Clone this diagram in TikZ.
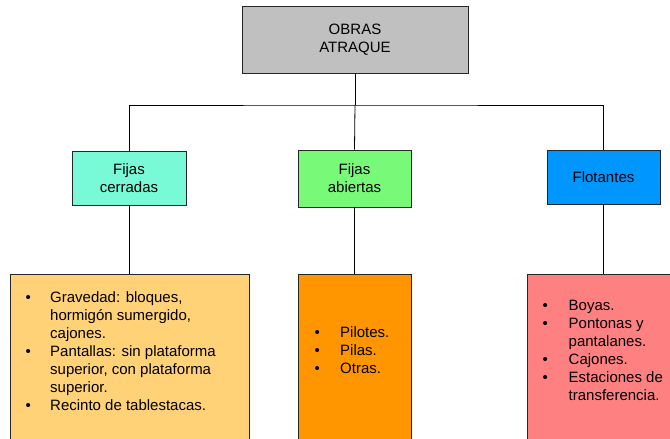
\documentclass[tikz,border=0pt]{standalone}
\usepackage{fontspec}
\setmainfont{Liberation Sans}
\usepackage{array}

\definecolor{grisraiz}{RGB}{192,192,192}
\definecolor{aguamarina}{RGB}{120,250,215}
\definecolor{verdeclaro}{RGB}{120,250,120}
\definecolor{azulflot}{RGB}{0,150,255}
\definecolor{amarillo}{RGB}{255,210,120}
\definecolor{naranja}{RGB}{255,150,0}
\definecolor{rosado}{RGB}{255,128,128}

\begin{document}
\begin{tikzpicture}[x=1pt, y=-1pt,
	box/.style = {draw=black!85, line width=0.8pt, inner sep=0pt, align=center, font=\fontsize{15}{18}\selectfont},
	lista/.style = {anchor=north west, inner sep=0pt, font=\fontsize{15}{18}\selectfont},
	linea/.style = {draw=black, line width=0.8pt}]
				\useasboundingbox (0,0) rectangle (670,439);
				\clip (0,0) rectangle (670,439);
				
				\node[box, fill=grisraiz, minimum width=226pt, minimum height=67pt] (obras) at (355,39.5) {OBRAS\\ATRAQUE};
				\coordinate (bus) at (355,105);
				
				\node[box, fill=aguamarina, minimum width=114pt, minimum height=54pt] (cerradas) at (129,178) {Fijas\\cerradas};
				\node[box, fill=verdeclaro, minimum width=113pt, minimum height=57pt] (abiertas) at (354.5,178.5) {Fijas\\abiertas};
				\node[box, fill=azulflot, minimum width=113pt, minimum height=54pt] (flotantes) at (603.5,177) {Flotantes};
				
				\node[box, fill=amarillo, minimum width=239pt, minimum height=206pt] (listacerradas) at (129.5,377) {};
				\node[box, fill=naranja, minimum width=113pt, minimum height=206pt] (listaabiertas) at (354.5,377) {};
				\node[box, fill=rosado, minimum width=160pt, minimum height=206pt] (listaflotantes) at (607,377) {};
				
				\draw[linea] (obras) -- (bus);
				\draw[linea] (cerradas.north) |- (bus) -| (flotantes.north);
				\draw[linea] (bus) -- (abiertas.north);
				\draw[linea] (cerradas.south) -- (cerradas.south |- listacerradas.north);
				\draw[linea] (abiertas.south) -- (abiertas.south |- listaabiertas.north);
				\draw[linea] (flotantes.south) -- (flotantes.south |- listaflotantes.north);
				
				\node[lista] (textocerradas) at (25.5,289.4) {\begin{tabular}{@{}p{24.5pt}@{}l@{}}
					\textbullet & Gravedad: bloques,\\
					& hormigón sumergido,\\
					& cajones.\\
					\textbullet & Pantallas: sin plataforma\\
					& superior, con plataforma\\
					& superior.\\
					\textbullet & Recinto de tablestacas.
				\end{tabular}};
				\node[lista] (textoabiertas) at (314.5,325) {\begin{tabular}{@{}p{25.5pt}@{}l@{}}
					\textbullet & Pilotes.\\
					\textbullet & Pilas.\\
					\textbullet & Otras.
				\end{tabular}};
				\node[lista] (textoflotantes) at (542.5,298) {\begin{tabular}{@{}p{26pt}@{}l@{}}
					\textbullet & Boyas.\\
					\textbullet & Pontonas y\\
					& pantalanes.\\
					\textbullet & Cajones.\\
					\textbullet & Estaciones de\\
					& transferencia.
				\end{tabular}};
				
				\end{tikzpicture}
\end{document}
